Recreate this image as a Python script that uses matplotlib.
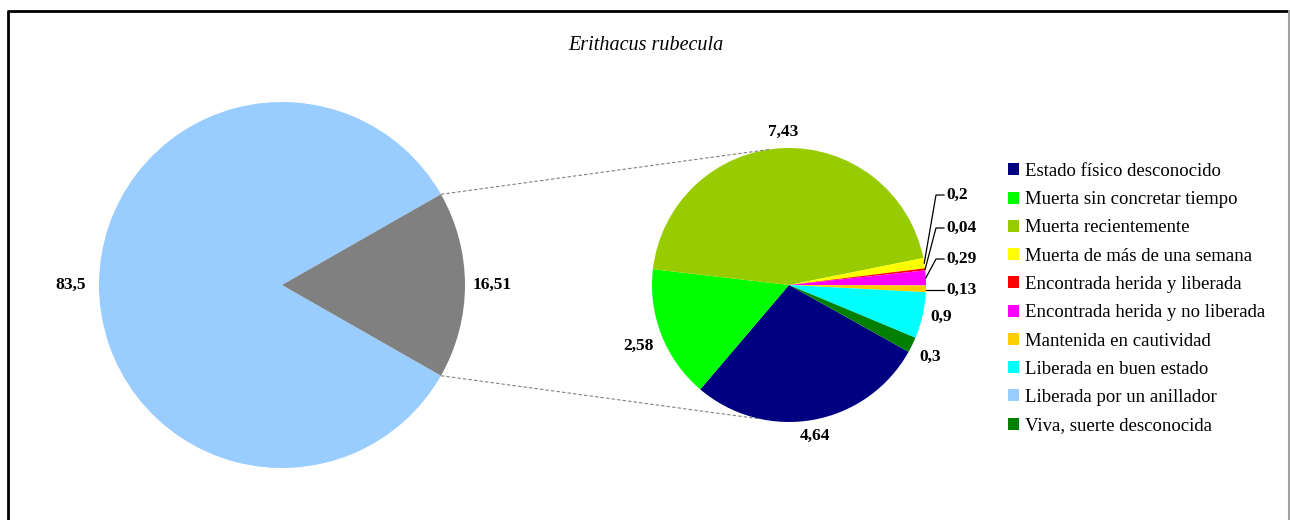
import matplotlib

matplotlib.use("Agg")
import matplotlib.pyplot as plt
import numpy as np
from matplotlib.patches import Patch

# -- datos --
titulo = "Erithacus rubecula"
categorias = [
    "Estado físico desconocido",
    "Muerta sin concretar tiempo",
    "Muerta recientemente",
    "Muerta de más de una semana",
    "Encontrada herida y liberada",
    "Encontrada herida y no liberada",
    "Mantenida en cautividad",
    "Liberada en buen estado",
    "Liberada por un anillador",
    "Viva, suerte desconocida",
]
valores = [4.64, 2.58, 7.43, 0.2, 0.04, 0.29, 0.13, 0.9, 83.5, 0.3]
colores = [
    "#000080", "#00FF00", "#99CC00", "#FFFF00", "#FF0000",
    "#FF00FF", "#FFCC00", "#00FFFF", "#99CCFF", "#008000",
]
principal = "Liberada por un anillador"
color_otros = "#808080"

W, H = 1290, 520
plt.rcParams["font.family"] = ["Liberation Serif", "DejaVu Serif"]
FS_LAB = 12.5

fig = plt.figure(figsize=(W / 100, H / 100), dpi=100)
ax = fig.add_axes([0, 0, 1, 1])


def fmt(v):
    return f"{round(v, 2):g}".replace(".", ",")


def py(y):
    # pixel row -> data y
    return H - y


# split datos
i_main = categorias.index(principal)
sub_vals = [v for i, v in enumerate(valores) if i != i_main]
sub_cols = [c for i, c in enumerate(colores) if i != i_main]
otros = sum(sub_vals)

# -- pie principal --
c1, r1 = (282, py(285)), 183
frac = otros / (valores[i_main] + otros)
w1, _ = ax.pie(
    [valores[i_main], otros],
    colors=[colores[i_main], color_otros],
    startangle=frac * 180,
    center=c1, radius=r1,
    wedgeprops=dict(linewidth=0),
)

# -- pie secundario --
c2, r2 = (789, py(285)), 137
w2, _ = ax.pie(
    sub_vals,
    colors=sub_cols,
    startangle=-29.2,
    counterclock=False,
    center=c2, radius=r2,
    wedgeprops=dict(linewidth=0),
)

# pie() cambia los límites: fijarlos después
ax.set_xlim(0, W)
ax.set_ylim(0, H)
ax.set_aspect("equal")
ax.axis("off")


def mid(w):
    return np.deg2rad((w.theta1 + w.theta2) / 2)


def label(c, r, ang, txt, gap=8):
    ca, sa = np.cos(ang), np.sin(ang)
    x, y = c[0] + (r + gap) * ca, c[1] + (r + gap) * sa
    ha = "left" if ca > 0.35 else ("right" if ca < -0.35 else "center")
    va = "bottom" if sa > 0.35 else ("top" if sa < -0.35 else "center")
    ax.text(x, y, txt, ha=ha, va=va, fontsize=FS_LAB, fontweight="bold")


label(c1, r1, mid(w1[0]), fmt(valores[i_main]), gap=13)
label(c1, r1, mid(w1[1]), fmt(otros))

# etiquetas pequeñas con guías
small_rows = {3: 195, 4: 228, 5: 259, 6: 290}
for k, w in enumerate(w2):
    txt = fmt(sub_vals[k])
    if k in small_rows:
        a = mid(w)
        ex, ey = c2[0] + r2 * np.cos(a), c2[1] + r2 * np.sin(a)
        ty = py(small_rows[k])
        if k == 6:
            ax.plot([ex, 944], [ty, ty], color="black", lw=0.9)
        else:
            ax.plot([ex, 936, 944], [ey, ty, ty], color="black", lw=0.9)
        ax.text(946, ty, txt, ha="left", va="center",
                fontsize=FS_LAB, fontweight="bold")
    else:
        label(c2, r2, mid(w), txt)

# líneas de conexión
for a1, a2 in [(w1[1].theta2, 98), (w1[1].theta1, -102)]:
    p = (c1[0] + r1 * np.cos(np.deg2rad(a1)), c1[1] + r1 * np.sin(np.deg2rad(a1)))
    q = (c2[0] + r2 * np.cos(np.deg2rad(a2)), c2[1] + r2 * np.sin(np.deg2rad(a2)))
    ax.plot([p[0], q[0]], [p[1], q[1]], color="#808080", lw=0.8,
            linestyle=(0, (3, 2)))

# título
ax.text(646, py(45), titulo, ha="center", va="center",
        fontsize=14.5, fontstyle="italic")

# leyenda
handles = [Patch(facecolor=c, edgecolor="none", label=l)
           for l, c in zip(categorias, colores)]
ax.legend(
    handles=handles,
    loc="upper left",
    bbox_to_anchor=(1008 / W, 1 - 163 / H),
    frameon=False,
    fontsize=13.5,
    handlelength=0.6,
    handleheight=0.6,
    handletextpad=0.3,
    labelspacing=0.6,
    borderaxespad=0,
    borderpad=0,
)

# marco
ax.plot([7.5, 7.5, W - 1.5], [0, py(10.5), py(10.5)], color="black", lw=2)
ax.plot([W - 1.5, W - 1.5], [py(10.5), 0], color="#A0A0A0", lw=1.5)

fig.savefig("out.png", dpi=100)
